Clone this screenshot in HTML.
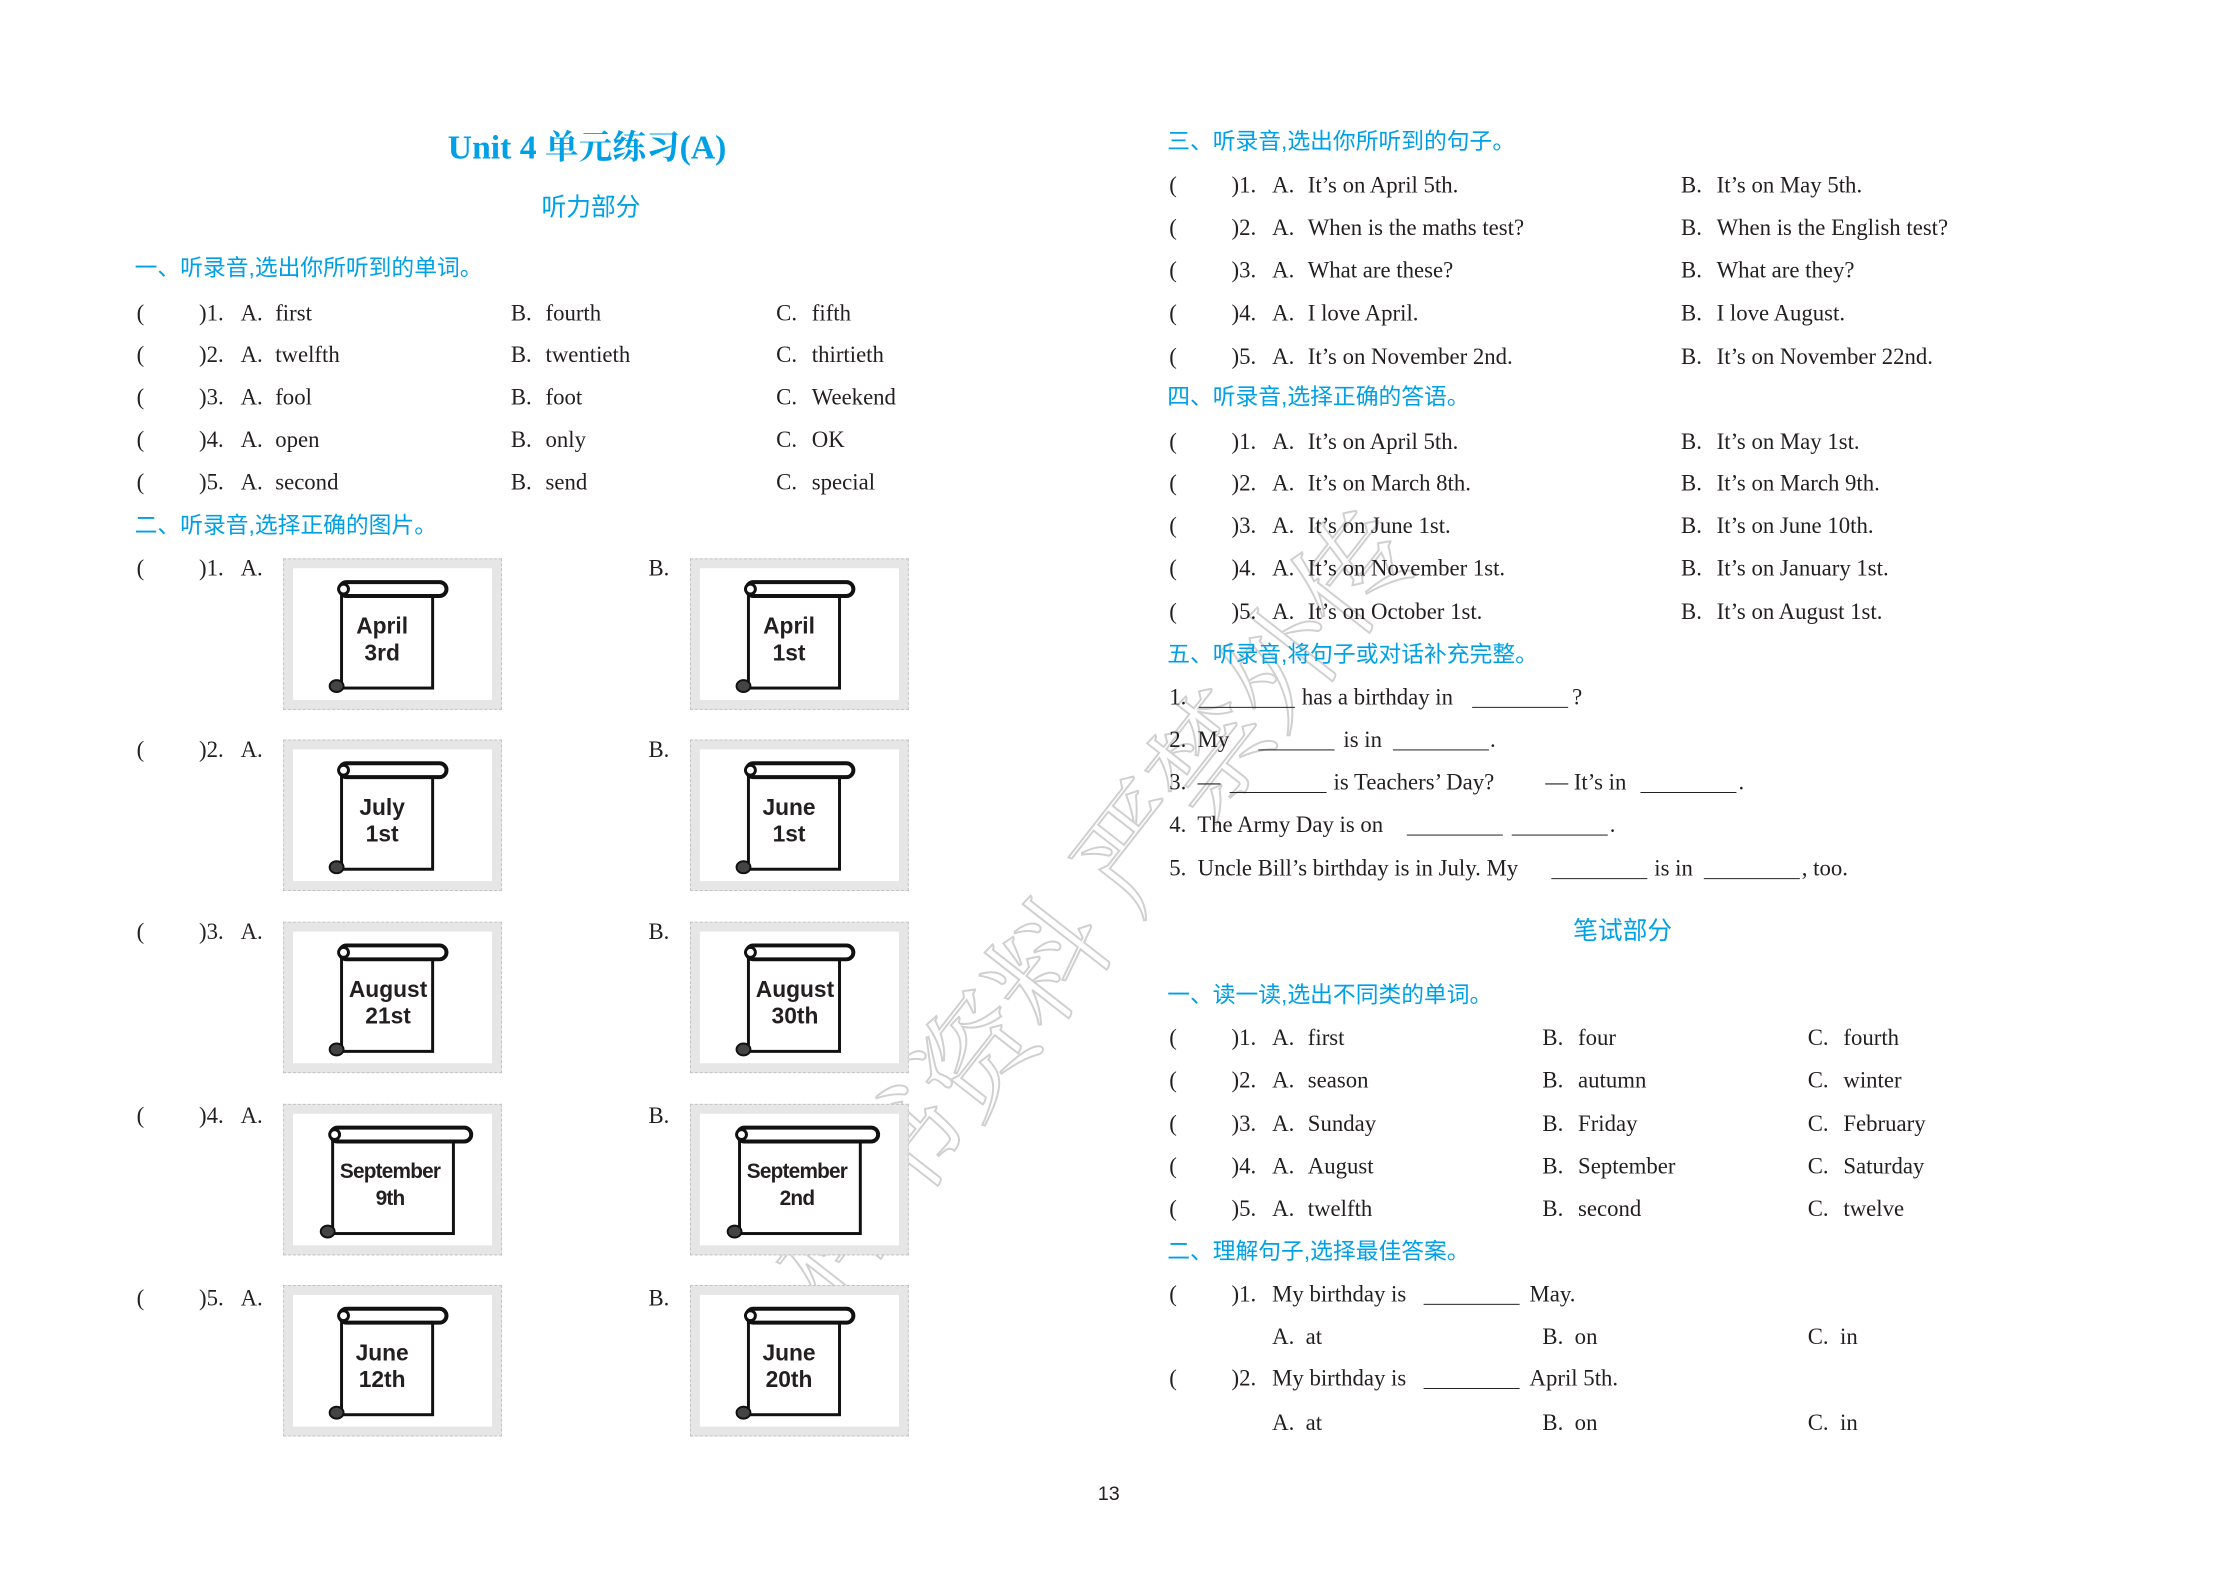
<!DOCTYPE html>
<html><head><meta charset="utf-8">
<style>
html,body{margin:0;padding:0;background:#fff;}
body{width:2220px;height:1571px;position:relative;overflow:hidden;font-family:"Liberation Serif","Noto Serif CJK SC",serif;color:#231f20;}
#pg{position:absolute;left:0;top:0;width:2220px;height:1571px;transform:scale(0.99);transform-origin:0 0;}
.t{position:absolute;white-space:nowrap;line-height:1;transform:translateY(-50%);font-size:23px;}
.h{position:absolute;white-space:nowrap;line-height:1;transform:translateY(-50%);font-size:23px;color:#00a0e6;font-family:"Liberation Sans","Noto Sans CJK SC",sans-serif;}
.c{transform:translate(-50%,-50%);}
.b{position:absolute;height:0;border-bottom:1.5px solid #231f20;}
.st{position:absolute;width:221px;height:153px;background:#e6e6e6;box-sizing:border-box;border:1px dashed #c4c4c4;}
.st .in{position:absolute;left:9px;top:9px;right:9px;bottom:9px;background:#fff;}
.st svg{position:absolute;}
.st .lb{position:absolute;font-family:"Liberation Sans",sans-serif;font-weight:bold;font-size:23px;line-height:27px;text-align:center;color:#231f20;}
.wm{position:absolute;font-family:"Noto Serif CJK SC","Noto Sans CJK SC",serif;font-size:118px;color:transparent;-webkit-text-stroke:2px #d0d0d0;white-space:nowrap;transform-origin:0 0;}
</style></head><body><div id="pg">

<div class="wm" style="left:730px;top:1240px;transform:rotate(-52deg);">样书资料 严禁外传</div>

<div class="h c" style="left:593px;top:150px;font-size:34px;font-weight:bold;font-family:'Liberation Serif','Noto Serif CJK SC',serif;">Unit 4 单元练习(A)</div>
<div class="h c" style="left:597px;top:210px;font-size:25px;">听力部分</div>

<div class="h" style="left:136px;top:271px;">一、听录音,选出你所听到的单词。</div>
<div class="t" style="left:138px;top:316px">(</div><div class="t" style="left:201px;top:316px">)1.</div><div class="t" style="left:243px;top:316px">A.</div><div class="t" style="left:278px;top:316px">first</div><div class="t" style="left:516px;top:316px">B.</div><div class="t" style="left:551px;top:316px">fourth</div><div class="t" style="left:784px;top:316px">C.</div><div class="t" style="left:820px;top:316px">fifth</div>
<div class="t" style="left:138px;top:358px">(</div><div class="t" style="left:201px;top:358px">)2.</div><div class="t" style="left:243px;top:358px">A.</div><div class="t" style="left:278px;top:358px">twelfth</div><div class="t" style="left:516px;top:358px">B.</div><div class="t" style="left:551px;top:358px">twentieth</div><div class="t" style="left:784px;top:358px">C.</div><div class="t" style="left:820px;top:358px">thirtieth</div>
<div class="t" style="left:138px;top:401px">(</div><div class="t" style="left:201px;top:401px">)3.</div><div class="t" style="left:243px;top:401px">A.</div><div class="t" style="left:278px;top:401px">fool</div><div class="t" style="left:516px;top:401px">B.</div><div class="t" style="left:551px;top:401px">foot</div><div class="t" style="left:784px;top:401px">C.</div><div class="t" style="left:820px;top:401px">Weekend</div>
<div class="t" style="left:138px;top:444px">(</div><div class="t" style="left:201px;top:444px">)4.</div><div class="t" style="left:243px;top:444px">A.</div><div class="t" style="left:278px;top:444px">open</div><div class="t" style="left:516px;top:444px">B.</div><div class="t" style="left:551px;top:444px">only</div><div class="t" style="left:784px;top:444px">C.</div><div class="t" style="left:820px;top:444px">OK</div>
<div class="t" style="left:138px;top:487px">(</div><div class="t" style="left:201px;top:487px">)5.</div><div class="t" style="left:243px;top:487px">A.</div><div class="t" style="left:278px;top:487px">second</div><div class="t" style="left:516px;top:487px">B.</div><div class="t" style="left:551px;top:487px">send</div><div class="t" style="left:784px;top:487px">C.</div><div class="t" style="left:820px;top:487px">special</div>

<div class="h" style="left:136px;top:531px;">二、听录音,选择正确的图片。</div>

<div class="t" style="left:138px;top:574px">(</div><div class="t" style="left:201px;top:574px">)1.</div><div class="t" style="left:243px;top:574px">A.</div><div class="t" style="left:655px;top:574px">B.</div>
<div class="t" style="left:138px;top:757px">(</div><div class="t" style="left:201px;top:757px">)2.</div><div class="t" style="left:243px;top:757px">A.</div><div class="t" style="left:655px;top:757px">B.</div>
<div class="t" style="left:138px;top:941px">(</div><div class="t" style="left:201px;top:941px">)3.</div><div class="t" style="left:243px;top:941px">A.</div><div class="t" style="left:655px;top:941px">B.</div>
<div class="t" style="left:138px;top:1127px">(</div><div class="t" style="left:201px;top:1127px">)4.</div><div class="t" style="left:243px;top:1127px">A.</div><div class="t" style="left:655px;top:1127px">B.</div>
<div class="t" style="left:138px;top:1311px">(</div><div class="t" style="left:201px;top:1311px">)5.</div><div class="t" style="left:243px;top:1311px">A.</div><div class="t" style="left:655px;top:1311px">B.</div>

<div class="st" style="left:286px;top:564px"><div class="in"></div>
<svg style="left:44px;top:20px" width="124" height="118" viewBox="0 0 124 118"><rect x="14" y="9" width="92" height="101" fill="#fff" stroke="#111" stroke-width="3"/><rect x="12" y="3" width="108" height="14" rx="7" fill="#fff" stroke="#111" stroke-width="4"/><circle cx="16" cy="10" r="5" fill="#fff" stroke="#111" stroke-width="3"/><ellipse cx="9" cy="108" rx="7" ry="6" fill="#444" stroke="#111" stroke-width="2"/></svg>
<div class="lb" style="left:44px;top:54px;width:110px;">April<br>3rd</div></div>
<div class="st" style="left:697px;top:564px"><div class="in"></div>
<svg style="left:44px;top:20px" width="124" height="118" viewBox="0 0 124 118"><rect x="14" y="9" width="92" height="101" fill="#fff" stroke="#111" stroke-width="3"/><rect x="12" y="3" width="108" height="14" rx="7" fill="#fff" stroke="#111" stroke-width="4"/><circle cx="16" cy="10" r="5" fill="#fff" stroke="#111" stroke-width="3"/><ellipse cx="9" cy="108" rx="7" ry="6" fill="#444" stroke="#111" stroke-width="2"/></svg>
<div class="lb" style="left:44px;top:54px;width:110px;">April<br>1st</div></div>

<div class="st" style="left:286px;top:747px"><div class="in"></div>
<svg style="left:44px;top:20px" width="124" height="118" viewBox="0 0 124 118"><rect x="14" y="9" width="92" height="101" fill="#fff" stroke="#111" stroke-width="3"/><rect x="12" y="3" width="108" height="14" rx="7" fill="#fff" stroke="#111" stroke-width="4"/><circle cx="16" cy="10" r="5" fill="#fff" stroke="#111" stroke-width="3"/><ellipse cx="9" cy="108" rx="7" ry="6" fill="#444" stroke="#111" stroke-width="2"/></svg>
<div class="lb" style="left:44px;top:54px;width:110px;">July<br>1st</div></div>
<div class="st" style="left:697px;top:747px"><div class="in"></div>
<svg style="left:44px;top:20px" width="124" height="118" viewBox="0 0 124 118"><rect x="14" y="9" width="92" height="101" fill="#fff" stroke="#111" stroke-width="3"/><rect x="12" y="3" width="108" height="14" rx="7" fill="#fff" stroke="#111" stroke-width="4"/><circle cx="16" cy="10" r="5" fill="#fff" stroke="#111" stroke-width="3"/><ellipse cx="9" cy="108" rx="7" ry="6" fill="#444" stroke="#111" stroke-width="2"/></svg>
<div class="lb" style="left:44px;top:54px;width:110px;">June<br>1st</div></div>

<div class="st" style="left:286px;top:931px"><div class="in"></div>
<svg style="left:44px;top:20px" width="124" height="118" viewBox="0 0 124 118"><rect x="14" y="9" width="92" height="101" fill="#fff" stroke="#111" stroke-width="3"/><rect x="12" y="3" width="108" height="14" rx="7" fill="#fff" stroke="#111" stroke-width="4"/><circle cx="16" cy="10" r="5" fill="#fff" stroke="#111" stroke-width="3"/><ellipse cx="9" cy="108" rx="7" ry="6" fill="#444" stroke="#111" stroke-width="2"/></svg>
<div class="lb" style="left:50px;top:54px;width:110px;">August<br>21st</div></div>
<div class="st" style="left:697px;top:931px"><div class="in"></div>
<svg style="left:44px;top:20px" width="124" height="118" viewBox="0 0 124 118"><rect x="14" y="9" width="92" height="101" fill="#fff" stroke="#111" stroke-width="3"/><rect x="12" y="3" width="108" height="14" rx="7" fill="#fff" stroke="#111" stroke-width="4"/><circle cx="16" cy="10" r="5" fill="#fff" stroke="#111" stroke-width="3"/><ellipse cx="9" cy="108" rx="7" ry="6" fill="#444" stroke="#111" stroke-width="2"/></svg>
<div class="lb" style="left:50px;top:54px;width:110px;">August<br>30th</div></div>

<div class="st" style="left:286px;top:1115px"><div class="in"></div>
<svg style="left:35px;top:20px" width="158" height="118" viewBox="0 0 158 118"><rect x="14" y="9" width="122" height="101" fill="#fff" stroke="#111" stroke-width="3"/><rect x="12" y="3" width="142" height="14" rx="7" fill="#fff" stroke="#111" stroke-width="4"/><circle cx="16" cy="10" r="5" fill="#fff" stroke="#111" stroke-width="3"/><ellipse cx="9" cy="108" rx="7" ry="6" fill="#444" stroke="#111" stroke-width="2"/></svg>
<div class="lb" style="left:42px;top:54px;width:130px;font-size:21px;letter-spacing:-0.8px;">September<br>9th</div></div>
<div class="st" style="left:697px;top:1115px"><div class="in"></div>
<svg style="left:35px;top:20px" width="158" height="118" viewBox="0 0 158 118"><rect x="14" y="9" width="122" height="101" fill="#fff" stroke="#111" stroke-width="3"/><rect x="12" y="3" width="142" height="14" rx="7" fill="#fff" stroke="#111" stroke-width="4"/><circle cx="16" cy="10" r="5" fill="#fff" stroke="#111" stroke-width="3"/><ellipse cx="9" cy="108" rx="7" ry="6" fill="#444" stroke="#111" stroke-width="2"/></svg>
<div class="lb" style="left:42px;top:54px;width:130px;font-size:21px;letter-spacing:-0.8px;">September<br>2nd</div></div>

<div class="st" style="left:286px;top:1298px"><div class="in"></div>
<svg style="left:44px;top:20px" width="124" height="118" viewBox="0 0 124 118"><rect x="14" y="9" width="92" height="101" fill="#fff" stroke="#111" stroke-width="3"/><rect x="12" y="3" width="108" height="14" rx="7" fill="#fff" stroke="#111" stroke-width="4"/><circle cx="16" cy="10" r="5" fill="#fff" stroke="#111" stroke-width="3"/><ellipse cx="9" cy="108" rx="7" ry="6" fill="#444" stroke="#111" stroke-width="2"/></svg>
<div class="lb" style="left:44px;top:54px;width:110px;">June<br>12th</div></div>
<div class="st" style="left:697px;top:1298px"><div class="in"></div>
<svg style="left:44px;top:20px" width="124" height="118" viewBox="0 0 124 118"><rect x="14" y="9" width="92" height="101" fill="#fff" stroke="#111" stroke-width="3"/><rect x="12" y="3" width="108" height="14" rx="7" fill="#fff" stroke="#111" stroke-width="4"/><circle cx="16" cy="10" r="5" fill="#fff" stroke="#111" stroke-width="3"/><ellipse cx="9" cy="108" rx="7" ry="6" fill="#444" stroke="#111" stroke-width="2"/></svg>
<div class="lb" style="left:44px;top:54px;width:110px;">June<br>20th</div></div>

<div class="t c" style="left:1120px;top:1509px;font-family:'Liberation Sans',sans-serif;font-size:20px;">13</div>

<div class="h" style="left:1179px;top:143px;">三、听录音,选出你所听到的句子。</div>
<div class="t" style="left:1181px;top:187px">(</div><div class="t" style="left:1244px;top:187px">)1.</div><div class="t" style="left:1285px;top:187px">A.</div><div class="t" style="left:1321px;top:187px">It’s on April 5th.</div><div class="t" style="left:1698px;top:187px">B.</div><div class="t" style="left:1734px;top:187px">It’s on May 5th.</div>
<div class="t" style="left:1181px;top:230px">(</div><div class="t" style="left:1244px;top:230px">)2.</div><div class="t" style="left:1285px;top:230px">A.</div><div class="t" style="left:1321px;top:230px">When is the maths test?</div><div class="t" style="left:1698px;top:230px">B.</div><div class="t" style="left:1734px;top:230px">When is the English test?</div>
<div class="t" style="left:1181px;top:273px">(</div><div class="t" style="left:1244px;top:273px">)3.</div><div class="t" style="left:1285px;top:273px">A.</div><div class="t" style="left:1321px;top:273px">What are these?</div><div class="t" style="left:1698px;top:273px">B.</div><div class="t" style="left:1734px;top:273px">What are they?</div>
<div class="t" style="left:1181px;top:316px">(</div><div class="t" style="left:1244px;top:316px">)4.</div><div class="t" style="left:1285px;top:316px">A.</div><div class="t" style="left:1321px;top:316px">I love April.</div><div class="t" style="left:1698px;top:316px">B.</div><div class="t" style="left:1734px;top:316px">I love August.</div>
<div class="t" style="left:1181px;top:360px">(</div><div class="t" style="left:1244px;top:360px">)5.</div><div class="t" style="left:1285px;top:360px">A.</div><div class="t" style="left:1321px;top:360px">It’s on November 2nd.</div><div class="t" style="left:1698px;top:360px">B.</div><div class="t" style="left:1734px;top:360px">It’s on November 22nd.</div>

<div class="h" style="left:1179px;top:401px;">四、听录音,选择正确的答语。</div>
<div class="t" style="left:1181px;top:446px">(</div><div class="t" style="left:1244px;top:446px">)1.</div><div class="t" style="left:1285px;top:446px">A.</div><div class="t" style="left:1321px;top:446px">It’s on April 5th.</div><div class="t" style="left:1698px;top:446px">B.</div><div class="t" style="left:1734px;top:446px">It’s on May 1st.</div>
<div class="t" style="left:1181px;top:488px">(</div><div class="t" style="left:1244px;top:488px">)2.</div><div class="t" style="left:1285px;top:488px">A.</div><div class="t" style="left:1321px;top:488px">It’s on March 8th.</div><div class="t" style="left:1698px;top:488px">B.</div><div class="t" style="left:1734px;top:488px">It’s on March 9th.</div>
<div class="t" style="left:1181px;top:531px">(</div><div class="t" style="left:1244px;top:531px">)3.</div><div class="t" style="left:1285px;top:531px">A.</div><div class="t" style="left:1321px;top:531px">It’s on June 1st.</div><div class="t" style="left:1698px;top:531px">B.</div><div class="t" style="left:1734px;top:531px">It’s on June 10th.</div>
<div class="t" style="left:1181px;top:574px">(</div><div class="t" style="left:1244px;top:574px">)4.</div><div class="t" style="left:1285px;top:574px">A.</div><div class="t" style="left:1321px;top:574px">It’s on November 1st.</div><div class="t" style="left:1698px;top:574px">B.</div><div class="t" style="left:1734px;top:574px">It’s on January 1st.</div>
<div class="t" style="left:1181px;top:618px">(</div><div class="t" style="left:1244px;top:618px">)5.</div><div class="t" style="left:1285px;top:618px">A.</div><div class="t" style="left:1321px;top:618px">It’s on October 1st.</div><div class="t" style="left:1698px;top:618px">B.</div><div class="t" style="left:1734px;top:618px">It’s on August 1st.</div>

<div class="h" style="left:1179px;top:661px;">五、听录音,将句子或对话补充完整。</div>
<div class="t" style="left:1181px;top:704px">1.</div><div class="b" style="left:1211px;width:97px;top:714px"></div><div class="t" style="left:1315px;top:704px">has a birthday in</div><div class="b" style="left:1487px;width:97px;top:714px"></div><div class="t" style="left:1588px;top:704px">?</div>
<div class="t" style="left:1181px;top:747px">2.&nbsp; My</div><div class="b" style="left:1271px;width:77px;top:757px"></div><div class="t" style="left:1357px;top:747px">is in</div><div class="b" style="left:1407px;width:97px;top:757px"></div><div class="t" style="left:1505px;top:747px">.</div>
<div class="t" style="left:1181px;top:790px">3.&nbsp; —</div><div class="b" style="left:1242px;width:98px;top:800px"></div><div class="t" style="left:1347px;top:790px">is Teachers’ Day?</div><div class="t" style="left:1561px;top:790px">— It’s in</div><div class="b" style="left:1657px;width:97px;top:800px"></div><div class="t" style="left:1756px;top:790px">.</div>
<div class="t" style="left:1181px;top:833px">4.&nbsp; The Army Day is on</div><div class="b" style="left:1421px;width:97px;top:843px"></div><div class="b" style="left:1527px;width:97px;top:843px"></div><div class="t" style="left:1626px;top:833px">.</div>
<div class="t" style="left:1181px;top:877px">5.&nbsp; Uncle Bill’s birthday is in July. My</div><div class="b" style="left:1567px;width:97px;top:887px"></div><div class="t" style="left:1671px;top:877px">is in</div><div class="b" style="left:1721px;width:97px;top:887px"></div><div class="t" style="left:1820px;top:877px">, too.</div>

<div class="h c" style="left:1639px;top:941px;font-size:25px;">笔试部分</div>

<div class="h" style="left:1179px;top:1005px;">一、读一读,选出不同类的单词。</div>
<div class="t" style="left:1181px;top:1048px">(</div><div class="t" style="left:1244px;top:1048px">)1.</div><div class="t" style="left:1285px;top:1048px">A.</div><div class="t" style="left:1321px;top:1048px">first</div><div class="t" style="left:1558px;top:1048px">B.</div><div class="t" style="left:1594px;top:1048px">four</div><div class="t" style="left:1826px;top:1048px">C.</div><div class="t" style="left:1862px;top:1048px">fourth</div>
<div class="t" style="left:1181px;top:1091px">(</div><div class="t" style="left:1244px;top:1091px">)2.</div><div class="t" style="left:1285px;top:1091px">A.</div><div class="t" style="left:1321px;top:1091px">season</div><div class="t" style="left:1558px;top:1091px">B.</div><div class="t" style="left:1594px;top:1091px">autumn</div><div class="t" style="left:1826px;top:1091px">C.</div><div class="t" style="left:1862px;top:1091px">winter</div>
<div class="t" style="left:1181px;top:1135px">(</div><div class="t" style="left:1244px;top:1135px">)3.</div><div class="t" style="left:1285px;top:1135px">A.</div><div class="t" style="left:1321px;top:1135px">Sunday</div><div class="t" style="left:1558px;top:1135px">B.</div><div class="t" style="left:1594px;top:1135px">Friday</div><div class="t" style="left:1826px;top:1135px">C.</div><div class="t" style="left:1862px;top:1135px">February</div>
<div class="t" style="left:1181px;top:1178px">(</div><div class="t" style="left:1244px;top:1178px">)4.</div><div class="t" style="left:1285px;top:1178px">A.</div><div class="t" style="left:1321px;top:1178px">August</div><div class="t" style="left:1558px;top:1178px">B.</div><div class="t" style="left:1594px;top:1178px">September</div><div class="t" style="left:1826px;top:1178px">C.</div><div class="t" style="left:1862px;top:1178px">Saturday</div>
<div class="t" style="left:1181px;top:1221px">(</div><div class="t" style="left:1244px;top:1221px">)5.</div><div class="t" style="left:1285px;top:1221px">A.</div><div class="t" style="left:1321px;top:1221px">twelfth</div><div class="t" style="left:1558px;top:1221px">B.</div><div class="t" style="left:1594px;top:1221px">second</div><div class="t" style="left:1826px;top:1221px">C.</div><div class="t" style="left:1862px;top:1221px">twelve</div>

<div class="h" style="left:1179px;top:1264px;">二、理解句子,选择最佳答案。</div>
<div class="t" style="left:1181px;top:1307px">(</div><div class="t" style="left:1244px;top:1307px">)1.</div><div class="t" style="left:1285px;top:1307px">My birthday is</div><div class="b" style="left:1438px;width:97px;top:1317px"></div><div class="t" style="left:1545px;top:1307px">May.</div>
<div class="t" style="left:1285px;top:1350px">A.&nbsp; at</div><div class="t" style="left:1558px;top:1350px">B.&nbsp; on</div><div class="t" style="left:1826px;top:1350px">C.&nbsp; in</div>
<div class="t" style="left:1181px;top:1392px">(</div><div class="t" style="left:1244px;top:1392px">)2.</div><div class="t" style="left:1285px;top:1392px">My birthday is</div><div class="b" style="left:1438px;width:97px;top:1402px"></div><div class="t" style="left:1545px;top:1392px">April 5th.</div>
<div class="t" style="left:1285px;top:1437px">A.&nbsp; at</div><div class="t" style="left:1558px;top:1437px">B.&nbsp; on</div><div class="t" style="left:1826px;top:1437px">C.&nbsp; in</div>

</div></body></html>
